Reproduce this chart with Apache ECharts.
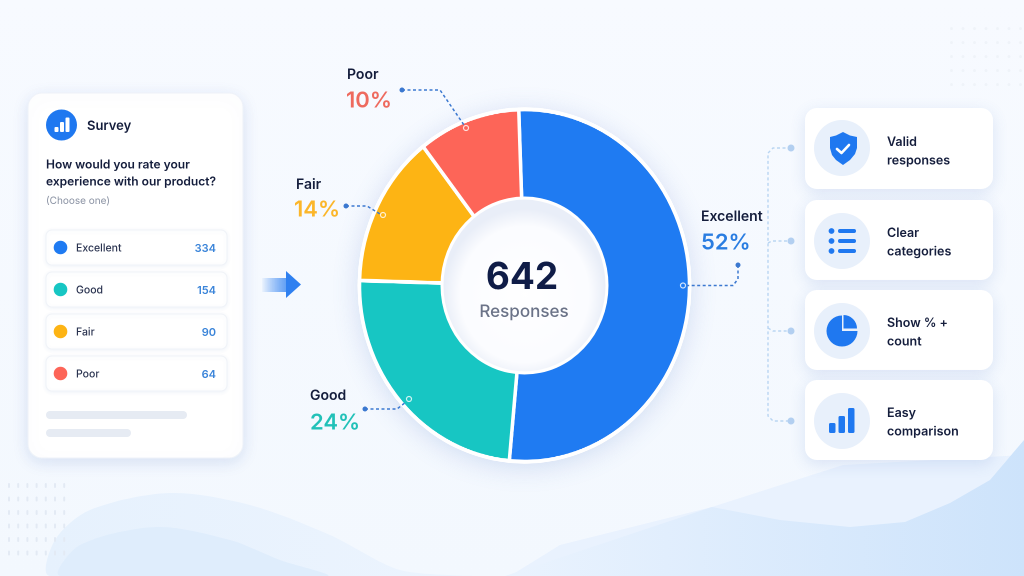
<!DOCTYPE html>
<html><head><meta charset="utf-8">
<style>
html,body{margin:0;padding:0;width:1024px;height:576px;overflow:hidden;background:#f6f9fe}
.l{position:absolute;left:0;top:0;width:1024px;height:576px}
#pie{transform-origin:524.5px 285.5px;transform:scaleY(1.0669)}
</style>
<script src="https://cdn.jsdelivr.net/npm/echarts@6/dist/echarts.min.js"></script>
</head><body>
<div id="bg" class="l"></div><div id="pie" class="l"></div><div id="top" class="l"></div>
<script>
const categories=['Excellent','Good','Fair','Poor'];
const counts=[334,154,90,64];
const percents=['52%','24%','14%','10%'];
const colors=['#1F7BF2','#17C6C3','#FDB414','#FD6558'];
const pctColors=['#2A7DE1','#22C1B8','#FBB62A','#EE6A5E'];
const totalValue='642';
const totalLabel='Responses';
const surveyTitle='Survey';
const question=['How would you rate your','experience with our product?'];
const hint='(Choose one)';
const features=[['Valid','responses'],['Clear','categories'],['Show % +','count'],['Easy','comparison']];

const FONT='Inter, "Noto Sans", sans-serif';
const NAVY='#141D3C';
const t=(text,x,y,size,weight,fill,align)=>({type:'text',silent:true,style:{text,x,y:y+1,fontFamily:FONT,fontSize:size,fontWeight:weight,fill,align:align||'left',verticalAlign:'middle'}});
const rect=(x,y,w,h,r,fill,extra)=>({type:'rect',silent:true,shape:{x,y,width:w,height:h,r},style:Object.assign({fill},extra||{})});
const circ=(cx,cy,r,fill,extra)=>({type:'circle',silent:true,shape:{cx,cy,r},style:Object.assign({fill},extra||{})});
const poly=(points,fill,smooth)=>({type:'polygon',silent:true,shape:{points,smooth:smooth||0},style:{fill}});
const grad=(x,y,x2,y2,a,b)=>({type:'linear',x,y,x2,y2,colorStops:[{offset:0,color:a},{offset:1,color:b}]});
const cardShadow={shadowBlur:16,shadowColor:'rgba(70,110,190,0.16)',shadowOffsetY:4};

/* ---------- background layer ---------- */
const bgEls=[];
bgEls.push(rect(0,0,1024,576,0,grad(0,0,0,1,'#F7FAFF','#F3F8FE')));
bgEls.push(poly([[50,576],[55,540],[90,510],[170,493],[250,505],[330,535],[400,570],[470,576]],grad(0,0,1,0,'#E6F1FD','#ECF4FE'),0.3));
bgEls.push(poly([[60,576],[80,545],[157,527],[230,540],[280,560],[327,576]],'#DFEDFC',0.3));
bgEls.push(poly([[510,576],[560,545],[712,507],[843,465],[1024,455],[1024,576]],'#E9F2FE'));
bgEls.push(poly([[505,576],[712,507],[780,520],[850,527],[905,522],[950,503],[990,480],[1024,440],[1024,576]],grad(0,0,1,0,'#EAF3FE','#CDE3FB')));
for(let r=0;r<6;r++)for(let c=0;c<7;c++)bgEls.push(rect(8+c*9.2,483+r*13.5,2,5,1,'#E3EAF4'));
for(let r=0;r<5;r++)for(let c=0;c<7;c++)bgEls.push(rect(950+c*11.5,27+r*14,3,3,1.5,'#EFF3F9'));
bgEls.push({type:'circle',silent:true,x:524.5,y:285.5,scaleY:1.0669,shape:{cx:0,cy:0,r:167},style:{fill:'#fff',shadowBlur:26,shadowColor:'rgba(80,120,200,0.22)',shadowOffsetY:4}});
echarts.init(document.getElementById('bg')).setOption({animation:false,graphic:{elements:bgEls}});

/* ---------- donut (stretched vertically as in the reference) ---------- */
echarts.init(document.getElementById('pie'),null,{devicePixelRatio:2}).setOption({
  animation:false,backgroundColor:'transparent',
  series:[{type:'pie',center:[524.5,285.5],radius:[80,165],startAngle:92,clockwise:true,silent:true,
    label:{show:false},labelLine:{show:false},
    itemStyle:{borderColor:'#fff',borderWidth:3.5},
    data:categories.map((name,i)=>({name,value:counts[i],itemStyle:{color:colors[i]}}))}]
});

/* ---------- overlay ---------- */
const els=[];
// survey card
els.push(rect(28,93,215,365,14,'#fff',Object.assign({stroke:'#EEF2F9',lineWidth:1},cardShadow)));
els.push(circ(61.5,125,15.5,'#1F78F0'));
els.push(rect(54.5,127,4,5,1,'#fff'),rect(60,122,4,10,1,'#fff'),rect(65.5,117.5,4,14.5,1,'#fff'));
els.push(t(surveyTitle,87,125,13,600,NAVY));
question.forEach((q,i)=>els.push(t(q,46,164+i*17,12,600,NAVY)));
els.push(t(hint,46,200,10,400,'#8A92A3'));
categories.forEach((c,i)=>{
  const y=230+i*42;
  els.push(rect(46,y,181,35,6,'#fff',{stroke:'#F0F3F8',lineWidth:1,shadowBlur:4,shadowColor:'rgba(70,110,190,0.07)',shadowOffsetY:1}));
  els.push(circ(60.5,y+17.5,6.8,colors[i]));
  els.push(t(c,76,y+17.5,10.5,500,'#2A3350'));
  els.push(t(String(counts[i]),216,y+17.5,11,600,'#3A84D9','right'));
});
els.push(rect(46,411,141,8,4,'#E6EBF3'),rect(46,429,85,8,4,'#E6EBF3'));
// arrow
els.push(rect(262,278,26,14,0,grad(0,0,1,0,'rgba(47,128,240,0.04)','#5B9CF4')));
els.push(poly([[286,271],[301,284.5],[286,298]],'#2F80F0'));
// donut hole
els.push({type:'circle',silent:true,x:524.5,y:285.5,scaleY:1.0595,shape:{cx:0,cy:0,r:84},style:{fill:'#fff'}});
els.push({type:'circle',silent:true,x:524.5,y:285.5,scaleY:1.0595,shape:{cx:0,cy:0,r:81},style:{fill:{type:'radial',x:0.5,y:0.55,r:0.5,colorStops:[{offset:0,color:'#FFFFFF'},{offset:0.8,color:'#FBFCFF'},{offset:1,color:'#E9EEF8'}]}}});
els.push(t(totalValue,522,277,37,700,'#0F1C47','center'));
els.push(t(totalLabel,524,311,17,500,'#6B7388','center'));
// slice labels
const lab=[[701,216,701,242],[310,395,310,422],[296,184,294,209],[347,74,346,100]];
categories.forEach((c,i)=>{
  els.push(t(c,lab[i][0],lab[i][1],14,600,NAVY));
  els.push(t(percents[i],lab[i][2],lab[i][3],22,600,pctColors[i]));
});
// connectors
const dash={stroke:'#3B78D0',lineWidth:1.5,lineDash:[3,2.5],fill:'none'};
const conn=[
 [[738,265],[738,279],[733,285.5],[686,285.5]],
 [[365,409],[397,409],[406,402]],
 [[346,206],[367,206],[380,214]],
 [[402,90],[440,90],[464,125]]];
const ends=[[683,285.5],[409,399],[383,215],[466,128]];
conn.forEach((pts,i)=>{
  els.push({type:'polyline',silent:true,shape:{points:pts},style:dash});
  els.push(circ(pts[0][0],pts[0][1],2.5,'#3B78D0'));
  els.push(circ(ends[i][0],ends[i][1],2.5,'none',{stroke:'rgba(255,255,255,0.8)',lineWidth:1.2}));
});
// right connectors
const dash2={stroke:'#B9D5F2',lineWidth:1.4,lineDash:[3,2.5],fill:'none'};
els.push({type:'polyline',silent:true,shape:{points:[[791,148],[773,148],[768,153],[768,416],[773,421],[791,421]]},style:dash2});
els.push({type:'polyline',silent:true,shape:{points:[[768,243],[772,241],[791,241]]},style:dash2});
els.push({type:'polyline',silent:true,shape:{points:[[768,328],[773,331],[791,331]]},style:dash2});
[148,241,331,421].forEach(y=>els.push(circ(791,y,3.5,'#B3D0F1')));
// feature cards
const cardY=[108,200,290,380], cardH=[81,80,80,80], discY=[148,241,331,421], textY=[141,232,322,412];
features.forEach((f,i)=>{
  els.push(rect(805,cardY[i],188,cardH[i],12,'#fff',cardShadow));
  els.push(circ(842,discY[i],28,'#E8F0FB'));
  f.forEach((line,j)=>els.push(t(line,887,textY[i]+j*18.5,12.5,600,NAVY)));
});
const B='#1F78F0';
// shield
els.push(poly([[843,132],[850,135.5],[857,137],[857,148],[855,154],[850,160],[843,165],[836,160],[832,155],[830,148],[830,137],[836,135.5]],B));
els.push({type:'polyline',silent:true,shape:{points:[[837,149],[841.5,153],[849,145]]},style:{stroke:'#fff',lineWidth:2.6,fill:'none',lineCap:'round',lineJoin:'round'}});
// list
[231,241,251].forEach(y=>{els.push(circ(831.5,y,2.9,B));els.push(rect(838,y-2,18,4,2,B));});
// pie icon
els.push({type:'sector',silent:true,shape:{cx:842,cy:331,r0:0,r:15.5,startAngle:0,endAngle:Math.PI*1.5,clockwise:true},style:{fill:B}});
els.push({type:'sector',silent:true,shape:{cx:843.5,cy:328.5,r0:0,r:13.5,startAngle:-Math.PI/2,endAngle:0,clockwise:true},style:{fill:B}});
// bars
els.push(rect(829,423,6.5,10,1.5,B),rect(838.5,416,6.5,17,1.5,B),rect(848,408,6.5,25,1.5,B));
echarts.init(document.getElementById('top'),null,{devicePixelRatio:2}).setOption({animation:false,backgroundColor:'transparent',graphic:{elements:els}});
</script>
</body></html>
